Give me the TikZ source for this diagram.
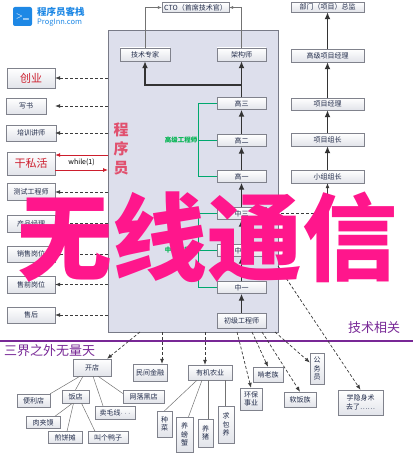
\documentclass[tikz,border=0pt]{standalone}
\usepackage{fontspec}
\newfontfamily\cjk{Noto Sans CJK SC}
\usetikzlibrary{arrows.meta,positioning}
\definecolor{boxln}{RGB}{128,130,140}
\definecolor{boxbot}{RGB}{226,228,234}
\definecolor{boxtxt}{RGB}{35,45,75}
\definecolor{pnlfill}{RGB}{221,223,236}
\definecolor{pnlln}{RGB}{120,122,135}
\definecolor{arrg}{RGB}{60,60,60}
\definecolor{grn}{RGB}{0,168,110}
\definecolor{grntxt}{RGB}{0,180,80}
\definecolor{redt}{RGB}{205,30,45}
\definecolor{pinkt}{RGB}{225,80,110}
\definecolor{purp}{RGB}{120,40,150}
\definecolor{wmpink}{RGB}{255,22,140}
\definecolor{logob}{RGB}{30,136,229}

\begin{document}
\begin{tikzpicture}[x=1pt, y=-1pt,
  box/.style={draw=boxln, top color=white, bottom color=boxbot, text=boxtxt,
    font=\cjk\fontsize{7}{8.5}\selectfont, inner sep=0pt, align=center},
  bx/.style 2 args={box, minimum width=#1, minimum height=#2},
  dsh/.style={draw=arrg, densely dashed, line width=0.7pt, -{Latex[length=5pt,width=4pt]}},
  thk/.style={draw=black!80, line width=1.6pt, -{Latex[length=7pt,width=6pt]}},
  ln/.style={draw=black!55, line width=0.5pt},
  grnln/.style={draw=grn, line width=1pt},
  grnlbl/.style={text=grntxt, font=\cjk\bfseries\fontsize{6.5}{7}\selectfont, anchor=east, inner sep=1pt},
]
  \useasboundingbox (0,0) rectangle (415,454);

  % --- logo ---
  \node[fill=logob, rounded corners=2pt, minimum size=19, inner sep=0, text=white,
    font=\sffamily\bfseries\fontsize{8}{8}\selectfont] (logo) at (22.5,16.5) {>\_};
  \node[anchor=north west, inner sep=0, text=logob, font=\cjk\bfseries\fontsize{9.5}{10}\selectfont] (lgt) at (37,7.5) {程序员客栈};
  \node[anchor=north west, inner sep=0, text=logob, font=\cjk\fontsize{7.5}{8}\selectfont] (lgu) at (37,18.5) {ProgInn.com};

  % --- programmer panel ---
  \node[draw=pnlln, fill=pnlfill, minimum width=170, minimum height=302, inner sep=0] (pnl) at (193,181) {};
  \node[text=pinkt, font=\cjk\bfseries\fontsize{15}{19}\selectfont, align=center] (cxy) at (121,149) {程\\序\\员};

  \node[bx={67}{10}] (cto) at (195.5,7.5) {CTO（首席技术官）};
  \node[bx={50}{13}] (zj) at (145,54.5) {技术专家};
  \node[bx={49}{13}] (jgs) at (241.5,54.5) {架构师};
  \node[bx={49}{12}] (g3) at (241.5,103.5) {高三};
  \node[bx={49}{12}] (g2) at (241.5,140.5) {高二};
  \node[bx={49}{12}] (g1) at (241.5,176.5) {高一};
  \node[bx={49}{12}] (z3) at (241.5,213.5) {中三};
  \node[bx={49}{12}] (z2) at (241.5,250.5) {中二};
  \node[bx={49}{12}] (z1) at (241.5,287.5) {中一};
  \node[bx={49}{15}] (cj) at (241.5,320.5) {初级工程师};

  \draw[ln, -{Latex[length=4pt,width=3pt]}] (zj.north) |- (cto.west);
  \draw[ln, -{Latex[length=4pt,width=3pt]}] (jgs.north) |- (cto.east);
  \coordinate (br) at (241.5,85);
  \draw[thk] (g3.north) -- (jgs.south);
  \draw[thk] (br) -| (zj.south);
  \draw[thk] (g2) -- (g3);
  \draw[thk] (g1) -- (g2);
  \draw[thk] (z3) -- (g1);
  \draw[thk] (z2) -- (z3);
  \draw[thk] (z1) -- (z2);
  \draw[thk] (cj) -- (z1);

  \draw[grnln] (g3.west) -- ++(-18,0) |- (g1.west);
  \draw[grnln] (g2.west) -- ++(-18,0) node[grnlbl] (gjgc) {高级工程师};
  \draw[grnln] (z3.west) -- ++(-18,0) |- (z1.west);
  \draw[grnln] (z2.west) -- ++(-18,0) node[grnlbl] (zjgc) {中级工程师};

  % --- left column ---
  \node[bx={48}{20}, text=redt, font=\cjk\fontsize{11}{12}\selectfont] (cy) at (31,78) {创业};
  \node[bx={40}{16}] (xs) at (26,106) {写书};
  \node[bx={50}{16}] (px) at (31,133) {培训讲师};
  \node[bx={48}{23}, text=redt, font=\cjk\fontsize{11}{12}\selectfont] (gsh) at (31,163.5) {干私活};
  \node[bx={48}{17}] (cs) at (31,192) {测试工程师};
  \node[bx={48}{17}] (cp) at (31,223.5) {产品经理};
  \node[bx={48}{16}] (xsg) at (31,254) {销售岗位};
  \node[bx={48}{17}] (sq) at (31,284.5) {售前岗位};
  \node[bx={48}{16}] (sh) at (31,315) {售后};

  \foreach \b in {cy,xs,px,cs,cp,xsg,sq,sh}
    \draw[dsh] (pnl.west |- \b.east) -- (\b.east -| cy.east);

  \coordinate (gsa) at (108,155);
  \coordinate (gsb) at (108,170);
  \draw[draw=redt, line width=0.8pt, -{Latex[length=5pt,width=4pt]}] (gsa) -- (gsa -| gsh.east);
  \draw[draw=redt, line width=0.8pt, -{Latex[length=5pt,width=4pt]}] (gsb -| gsh.east) -- (gsb)
    node[midway, above=0.5pt, text=black, font=\cjk\fontsize{7}{8}\selectfont] (wh) {while(1)};

  % --- right column ---
  \node[bx={73}{10}] (zjl) at (327.5,7) {部门（项目）总监};
  \node[bx={73}{13}] (gjxm) at (327.5,55.5) {高级项目经理};
  \node[bx={73}{12}] (xmjl) at (327.5,104) {项目经理};
  \node[bx={73}{13}] (xmzz) at (327.5,139.5) {项目组长};
  \node[bx={73}{13}] (xzzz) at (327.5,176.5) {小组组长};
  \draw[thk] (gjxm) -- (zjl);
  \draw[thk] (xmjl) -- (gjxm);
  \draw[thk] (xmzz) -- (xmjl);
  \draw[thk] (xzzz) -- (xmzz);
  \coordinate (jn) at (327.5,213.5);
  \draw[draw=arrg, densely dashed, line width=0.7pt] (z3.east) -- (jn);
  \draw[ln, draw=arrg, line width=0.7pt, -{Latex[length=5pt,width=4pt]}] (jn) -- (xzzz.south);

  % --- divider ---
  \coordinate (dl) at (0,341);
  \coordinate (dr) at (413,341);
  \draw[draw=purp, line width=2pt] (dl) -- (dr);
  \node[anchor=west, inner sep=0, text=purp, font=\cjk\fontsize{13}{13}\selectfont] (sjzw) at (4,351) {三界之外无量天};
  \node[inner sep=0, text=purp, font=\cjk\fontsize{13}{13}\selectfont] (jsxg) at (374,328) {技术相关};

  % --- outside world ---
  \node[bx={38}{17}] (kd) at (92,367.5) {开店};
  \node[bx={34}{17}] (mjjr) at (150,372.5) {民间金融};
  \node[bx={44}{15}] (yjny) at (210,372.5) {有机农业};
  \node[bx={33}{13}] (bld) at (33.5,400.5) {便利店};
  \node[bx={27}{13}] (fd) at (75.5,396.5) {饭店};
  \node[bx={41}{13}] (wlhd) at (143.5,396.5) {网落黑店};
  \node[bx={40}{13}] (mmx) at (115,412.5) {卖毛线$\cdots$};
  \node[bx={34}{12}] (rjm) at (43,422.5) {肉夹馍};
  \node[bx={34}{12}] (jbt) at (65,437.5) {煎饼摊};
  \node[bx={40}{12}] (jgyz) at (108,437.5) {叫个鸭子};
  \node[bx={15}{26}] (zc) at (164.5,424) {种\\菜};
  \node[bx={17}{35}] (ppx) at (184.5,434.5) {养\\螃\\蟹};
  \node[bx={15}{28}] (yz) at (205.5,433) {养\\猪};
  \node[bx={16}{37}] (qby) at (226,424.5) {求\\包\\养};
  \node[bx={22}{22}] (hbsy) at (251,399) {环保\\事业};
  \node[bx={30}{15}] (klz) at (268,374.5) {啃老族};
  \node[bx={32}{15}] (rfz) at (300,399.5) {软饭族};
  \node[bx={14}{31}] (gwy) at (317,368.5) {公\\务\\员};
  \node[bx={45}{25}] (xys) at (360.5,402.5) {学隐身术\\去了……};

  \draw[ln] ([xshift=-12]kd.south) -- (bld.north east);
  \draw[ln] ([xshift=-9]kd.south) -- (fd.north);
  \draw[ln] ([xshift=1]kd.south) -- ([xshift=-12]mmx.north);
  \draw[ln] ([xshift=6]kd.south) -- ([yshift=3]wlhd.west);
  \draw[ln] ([xshift=-3]fd.south) -- ([xshift=12]rjm.north);
  \draw[ln] ([xshift=-2]fd.south) -- ([xshift=2]jbt.north);
  \draw[ln] ([xshift=6]fd.south) -- ([xshift=-13]jgyz.north);
  \draw[ln] ([xshift=-13]yjny.south) -- (zc.north);
  \draw[ln] ([xshift=-8]yjny.south) -- ([xshift=4]ppx.north);
  \draw[ln] ([xshift=-2]yjny.south) -- ([xshift=-2]yjny.south |- yz.north);
  \draw[ln] ([xshift=15]yjny.south) -- ([xshift=15]yjny.south |- qby.north);

  \coordinate (pb1) at (140,332);
  \coordinate (pb2) at (162,332);
  \coordinate (pb3) at (205,332);
  \coordinate (pb4) at (237,332);
  \coordinate (pb5) at (252,332);
  \coordinate (pb6) at (262,332);
  \coordinate (pb7) at (275,332);
  \coordinate (pr1) at (278,266);
  \draw[dsh] (pb1) -- (kd.30);
  \draw[dsh] (pb2) -- (pb2 |- mjjr.north);
  \draw[dsh] (pb3) -- (pb3 |- yjny.north);
  \draw[dsh] (pb4) -- (hbsy.north);
  \draw[dsh] (pb5) -- (klz.north);
  \draw[dsh] (pb6) -- (rfz.north);
  \draw[dsh] (pb7) -- ([yshift=6]gwy.west);
  \draw[dsh] (pr1) -- (xys.north);

  % --- watermark ---
  \node[inner sep=0, text=wmpink, font=\cjk\bfseries\fontsize{95}{95}\selectfont] (wm) at (207,237) {无线通信};
\end{tikzpicture}
\end{document}
